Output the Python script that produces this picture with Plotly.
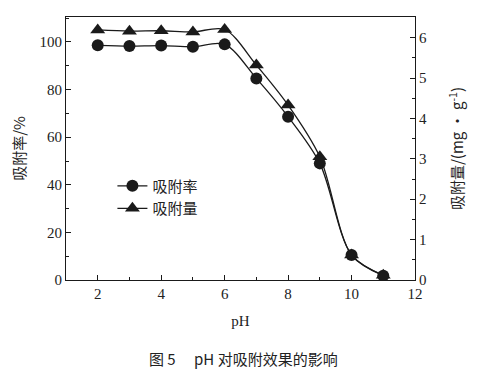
import plotly.graph_objects as go

ph = [2, 3, 4, 5, 6, 7, 8, 9, 10, 11]
rate = [98.6, 98.3, 98.5, 98.0, 99.0, 84.7, 68.6, 49.0, 10.5, 1.8]
capacity = [6.19, 6.16, 6.17, 6.14, 6.20, 5.32, 4.33, 3.05, 0.62, 0.12]

x_ticks = [2, 4, 6, 8, 10, 12]
left_ticks = [0, 20, 40, 60, 80, 100]
right_ticks = [0, 1, 2, 3, 4, 5, 6]

serif = "Liberation Serif, Times New Roman, serif"
cjk = "Noto Sans CJK SC, Liberation Serif, serif"

fig = go.Figure()
fig.add_trace(go.Scatter(
    x=ph, y=rate, name="吸附率", mode="lines+markers",
    line=dict(color="#1a1a1a", width=1.3, shape="spline", smoothing=0.9),
    marker=dict(symbol="circle", size=12, color="#1a1a1a"),
    yaxis="y"))
fig.add_trace(go.Scatter(
    x=ph, y=capacity, name="吸附量", mode="lines+markers",
    line=dict(color="#1a1a1a", width=1.3, shape="spline", smoothing=0.9),
    marker=dict(symbol="triangle-up", size=13, color="#1a1a1a"),
    yaxis="y2"))

axis_common = dict(
    showline=True, linecolor="#1a1a1a", linewidth=1.2,
    ticks="inside", ticklen=5, tickwidth=1.1, tickcolor="#1a1a1a",
    showgrid=False, zeroline=False, automargin=False,
    tickfont=dict(family=serif, size=15, color="#222"),
)

fig.update_layout(
    width=475, height=371,
    margin=dict(l=58, r=68, t=9, b=99),
    paper_bgcolor="white", plot_bgcolor="white",
    xaxis=dict(range=[1, 12], tickvals=x_ticks, mirror=True,
               minor=dict(dtick=1, ticks="inside", ticklen=3, tickcolor="#1a1a1a"),
               title=dict(text="pH", font=dict(family=serif, size=15, color="#222"), standoff=14),
               **axis_common),
    yaxis=dict(range=[0, 110.5], tickvals=left_ticks,
               minor=dict(dtick=10, ticks="inside", ticklen=3, tickcolor="#1a1a1a"),
               title=dict(text="吸附率/%", font=dict(family=cjk, size=15, color="#222"), standoff=18),
               **axis_common),
    yaxis2=dict(range=[0, 6.51], tickvals=right_ticks, overlaying="y", side="right",
                minor=dict(dtick=0.5, ticks="inside", ticklen=3, tickcolor="#1a1a1a"),
                title=dict(text="吸附量/(mg · g<sup>-1</sup>)", font=dict(family=cjk, size=15, color="#222"), standoff=26),
                **axis_common),
    legend=dict(x=0.133, y=0.42, xanchor="left", yanchor="top",
                bgcolor="rgba(0,0,0,0)", font=dict(family=cjk, size=15, color="#222"),
                tracegroupgap=0, itemwidth=30),
    showlegend=True,
)

fig.add_annotation(text="图 5\u2003 pH 对吸附效果的影响", xref="paper", yref="paper",
                   x=0.51, y=-0.297, xanchor="center", yanchor="middle", showarrow=False,
                   font=dict(family=cjk, size=15, color="#222"))

fig.write_html("out.html")
